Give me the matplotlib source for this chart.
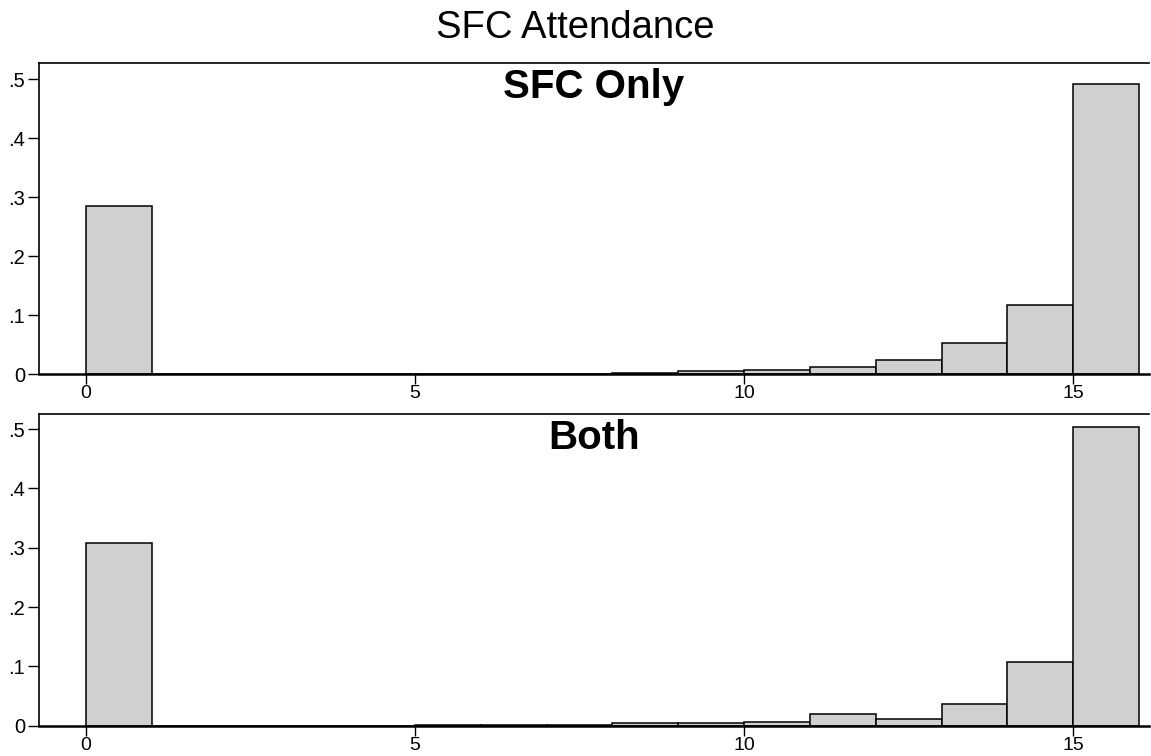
import matplotlib
matplotlib.use("Agg")
import matplotlib.pyplot as plt
import numpy as np

plt.rcParams['font.family'] = ['Liberation Sans', 'DejaVu Sans']

bin_left = list(range(16))
sfc_only = [0.2855, 0, 0, 0, 0, 0, 0, 0, 0.0017, 0.006, 0.008, 0.013, 0.024, 0.0535, 0.117, 0.4915]
both = [0.308, 0, 0, 0, 0, 0.001, 0.001, 0.001, 0.004, 0.004, 0.0056, 0.020, 0.011, 0.037, 0.107, 0.503]
panel_titles = ["SFC Only", "Both"]
xticks = [0, 5, 10, 15]
yticks = [0, 0.1, 0.2, 0.3, 0.4, 0.5]
ytick_labels = ["0", ".1", ".2", ".3", ".4", ".5"]

W, H = 1151, 756
fig = plt.figure(figsize=(W / 100, H / 100), dpi=100)

def px_axes(left, top, right, bottom):
    return fig.add_axes([left / W, 1 - bottom / H, (right - left) / W, (bottom - top) / H])

axes = [px_axes(39, 63.3, 1149, 374.3), px_axes(39, 414.3, 1149, 725.7)]
ytops = [0.527, 0.525]

for ax, vals, ttl, ytop in zip(axes, [sfc_only, both], panel_titles, ytops):
    ax.bar(bin_left, vals, width=1.0, align='edge', color='#d0d0d0',
           edgecolor='black', linewidth=1.1, zorder=2)
    ax.set_xlim(-0.709, 16.15)
    ax.set_ylim(0, ytop)
    ax.set_xticks(xticks)
    ax.set_xticklabels([str(t) for t in xticks])
    ax.set_yticks(yticks)
    ax.set_yticklabels(ytick_labels)
    ax.tick_params(axis='y', length=8, width=1.0, labelsize=14.5, pad=2, color='black')
    ax.tick_params(axis='x', length=7, width=1.0, labelsize=14, pad=1, color='black')
    ax.spines['right'].set_visible(False)
    for s in ['left', 'top']:
        ax.spines[s].set_linewidth(1.2)
    ax.spines['bottom'].set_linewidth(1.8)
    ax.spines['bottom'].set_zorder(3)
    ax.text(0.5, 0.985, ttl, transform=ax.transAxes, ha='center', va='top',
            fontsize=29, fontweight='bold')

fig.text(0.5, 1 - 28 / H, "SFC Attendance", ha='center', va='center', fontsize=27.5)

fig.savefig("out.png", dpi=100)
